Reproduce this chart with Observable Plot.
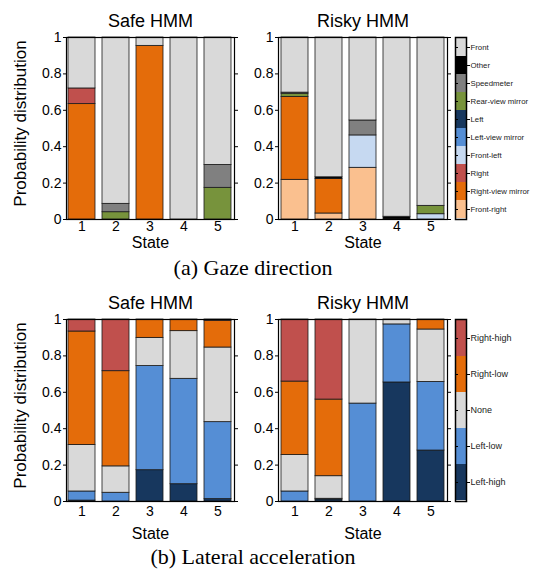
<!DOCTYPE html>
<html><head><meta charset="utf-8">
<script src="https://cdn.jsdelivr.net/npm/d3@7"></script>
<script src="https://cdn.jsdelivr.net/npm/@observablehq/plot@0.6"></script>
<style>
body{margin:0;background:#fff;}
#root{position:relative;width:534px;height:571px;overflow:hidden;background:#fff;font-family:"Liberation Sans",Arial,sans-serif;}
.cap{position:absolute;font-family:"Liberation Serif","Times New Roman",serif;font-size:22px;color:#000;white-space:nowrap;transform:translate(-50%,-50%);}
</style></head><body><div id="root"></div>
<script>
const states = [1, 2, 3, 4, 5];
// stacking order, bottom to top
const gazeCats = ["Front-right", "Right-view mirror", "Right", "Front-left", "Left-view mirror", "Left", "Rear-view mirror", "Speedmeter", "Other", "Front"];
const gazeColors = ["#fac08f", "#e46c0a", "#c0504d", "#c6d9f1", "#558ed5", "#17375e", "#77933c", "#808080", "#000000", "#d9d9d9"];
// rows = states 1..5, columns = gazeCats
const safeGaze = [
  [0, 0.634, 0.086, 0, 0, 0, 0, 0, 0, 0.280],
  [0, 0, 0, 0, 0, 0, 0.040, 0.046, 0, 0.914],
  [0, 0.954, 0, 0, 0, 0, 0, 0, 0, 0.046],
  [0, 0, 0, 0, 0, 0, 0, 0, 0, 1.000],
  [0, 0, 0, 0, 0, 0, 0.174, 0.126, 0, 0.700]
];
const riskyGaze = [
  [0.218, 0.455, 0, 0, 0, 0, 0.018, 0.006, 0, 0.303],
  [0.033, 0.189, 0, 0, 0, 0, 0, 0, 0.010, 0.768],
  [0.284, 0, 0, 0.178, 0, 0, 0, 0.082, 0, 0.456],
  [0, 0, 0, 0, 0, 0, 0, 0, 0.015, 0.985],
  [0, 0, 0, 0.029, 0, 0, 0.046, 0, 0, 0.925]
];
const latCats = ["Left-high", "Left-low", "None", "Right-low", "Right-high"];
const latColors = ["#17375e", "#558ed5", "#d9d9d9", "#e46c0a", "#c0504d"];
const safeLat = [
  [0.005, 0.050, 0.256, 0.623, 0.066],
  [0, 0.048, 0.145, 0.523, 0.284],
  [0.172, 0.572, 0.155, 0.101, 0],
  [0.095, 0.579, 0.262, 0.064, 0],
  [0.013, 0.423, 0.410, 0.147, 0.007]
];
const riskyLat = [
  [0, 0.055, 0.200, 0.404, 0.341],
  [0.011, 0.004, 0.124, 0.421, 0.440],
  [0, 0.538, 0.462, 0, 0],
  [0.654, 0.319, 0.027, 0, 0],
  [0.280, 0.377, 0.288, 0.055, 0]
];
const yTicks = [0, 0.2, 0.4, 0.6, 0.8, 1];
const panelTitles = ["Safe HMM", "Risky HMM"];
const captions = ["(a) Gaze direction", "(b) Lateral acceleration"];
const yLabel = "Probability distribution";
const xLabel = "State";

const root = document.getElementById("root");

function rows(matrix, cats) {
  const out = [];
  matrix.forEach((vals, i) => vals.forEach((v, j) => {
    if (v > 0) out.push({state: states[i], cat: cats[j], value: v});
  }));
  return out;
}

function place(el, left, top) {
  el.style.position = "absolute";
  el.style.left = left + "px";
  el.style.top = top + "px";
  el.style.maxWidth = "none";
  root.appendChild(el);
}

function panel({matrix, cats, colors, title, left, top, first, lower}) {
  const W = 250, innerW = first ? 168 : 169, mL = first ? 66 : 38;
  const marks = [
    Plot.barY(rows(matrix, cats), {x: "state", y: "value", fill: "cat", stroke: "#1a1a1a", strokeWidth: 0.8}),
    Plot.frame({stroke: "#000", strokeWidth: 1.2}),
    Plot.axisY(yTicks, {anchor: "left", tickSize: 3, tickPadding: 2, fontSize: 14, label: null, tickFormat: d => String(d)}),
    Plot.axisY(yTicks, {anchor: "right", tickSize: 3, tickFormat: () => "", label: null}),
    Plot.axisX(states, {anchor: "bottom", tickSize: 0, tickPadding: lower ? 5 : 2, fontSize: 14, label: null}),
    Plot.text([title], {text: d => d, frameAnchor: "top", lineAnchor: "middle", dy: -16, fontSize: 18}),
    Plot.text([xLabel], {text: d => d, frameAnchor: "bottom", lineAnchor: "middle", dy: lower ? 32 : 23, fontSize: 16})
  ];
  if (first) marks.push(Plot.text([yLabel], {text: d => d, frameAnchor: "left", textAnchor: "middle", lineAnchor: "middle", rotate: -90, dx: -46, dy: -5, fontSize: 17}));
  const svg = Plot.plot({
    width: W, height: 260,
    marginLeft: mL, marginRight: W - mL - innerW, marginTop: 37, marginBottom: 41,
    style: {background: "transparent", overflow: "visible", fontFamily: "'Liberation Sans', Arial, sans-serif", color: "#000"},
    x: {type: "band", domain: states, paddingInner: 0.2, paddingOuter: 0.05},
    y: {domain: [0, 1]},
    color: {domain: cats, range: colors},
    marks
  });
  place(svg, left, top);
}

function legend({cats, colors, top, fontSize}) {
  const svg = Plot.plot({
    width: 94, height: 260,
    marginLeft: 15, marginRight: 68, marginTop: 37, marginBottom: 41,
    style: {background: "transparent", overflow: "visible", fontFamily: "'Liberation Sans', Arial, sans-serif", color: "#000"},
    y: {type: "band", domain: cats.slice().reverse(), padding: 0},
    color: {domain: cats, range: colors},
    marks: [
      Plot.cell(cats, {y: d => d, fill: d => d, inset: 0}),
      Plot.tickY(cats, {y: d => d, stroke: "#000", insetRight: 8}),
      Plot.frame({stroke: "#000", strokeWidth: 1.5}),
      Plot.axisY({anchor: "right", tickSize: 3, tickPadding: 1, fontSize, label: null, fill: "#222"})
    ]
  });
  place(svg, 440, top);
}

panel({matrix: safeGaze, cats: gazeCats, colors: gazeColors, title: panelTitles[0], left: 0, top: 0, first: true, lower: false});
panel({matrix: riskyGaze, cats: gazeCats, colors: gazeColors, title: panelTitles[1], left: 240, top: 0, first: false, lower: false});
legend({cats: gazeCats, colors: gazeColors, top: 0, fontSize: 7.8});
panel({matrix: safeLat, cats: latCats, colors: latColors, title: panelTitles[0], left: 0, top: 282, first: true, lower: true});
panel({matrix: riskyLat, cats: latCats, colors: latColors, title: panelTitles[1], left: 240, top: 282, first: false, lower: true});
legend({cats: latCats, colors: latColors, top: 282, fontSize: 9});

[[captions[0], 253, 268], [captions[1], 253, 557]].forEach(([t, x, y]) => {
  const d = document.createElement("div");
  d.className = "cap";
  d.textContent = t;
  d.style.left = x + "px";
  d.style.top = y + "px";
  root.appendChild(d);
});
</script>
</body></html>
